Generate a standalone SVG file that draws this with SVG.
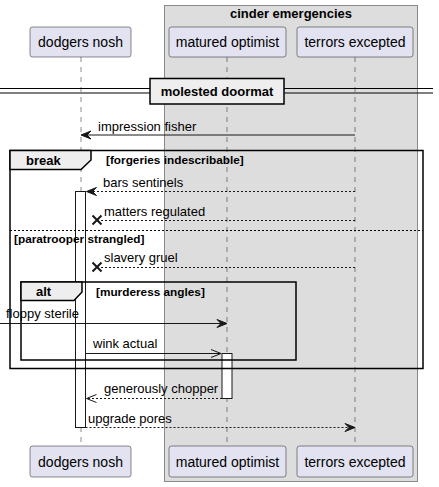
<svg xmlns="http://www.w3.org/2000/svg" width="439" height="487" viewBox="0 0 439 487">
<defs>
<style>
.pbox{fill:#E2E2F0;stroke:#181818;stroke-width:0.5}
.ptxt{font-family:"Liberation Sans",Arial,sans-serif;font-size:14px;fill:#000;text-anchor:middle}
.life{stroke:#181818;stroke-width:0.5;stroke-dasharray:5,5}
.msg{font-family:"Liberation Sans",Arial,sans-serif;font-size:13px;fill:#000}
.bold{font-family:"Liberation Sans",Arial,sans-serif;font-size:13px;font-weight:bold;fill:#000}
.cond{font-family:"Liberation Sans",Arial,sans-serif;font-size:11.8px;font-weight:bold;fill:#000}
.solid{stroke:#181818;stroke-width:1;fill:none}
.dash{stroke:#181818;stroke-width:1;fill:none;stroke-dasharray:2,2}
.frame{fill:none;stroke:#000;stroke-width:1.5}
.tab{fill:#EEEEEE;stroke:#000;stroke-width:1.5}
.act{fill:#FFFFFF;stroke:#181818;stroke-width:1}
.head{fill:#181818;stroke:#181818;stroke-width:1}
</style>
</defs>
<g id="box-cinder">
<rect x="164.5" y="5.5" width="253" height="476" fill="#DDDDDD" stroke="#8A8A8A" stroke-width="1"/>
<text class="bold" x="291" y="18" text-anchor="middle">cinder emergencies</text>
</g>
<g id="lifelines">
<line class="life" x1="81" y1="57" x2="81" y2="446"/>
<line class="life" x1="227" y1="57" x2="227" y2="446"/>
<line class="life" x1="355" y1="57" x2="355" y2="446"/>
</g>
<g id="dodgers-nosh">
<rect class="pbox" x="30" y="27" width="101" height="30" rx="2.5"/>
<text class="ptxt" x="80.5" y="47">dodgers nosh</text>
<rect class="pbox" x="30" y="446" width="101" height="31" rx="2.5"/>
<text class="ptxt" x="80.5" y="467">dodgers nosh</text>
</g>
<g id="matured-optimist">
<rect class="pbox" x="169" y="27" width="117" height="30" rx="2.5"/>
<text class="ptxt" x="227.5" y="47">matured optimist</text>
<rect class="pbox" x="169" y="446" width="117" height="31" rx="2.5"/>
<text class="ptxt" x="227.5" y="467">matured optimist</text>
</g>
<g id="terrors-excepted">
<rect class="pbox" x="297" y="27" width="116" height="30" rx="2.5"/>
<text class="ptxt" x="355" y="47">terrors excepted</text>
<rect class="pbox" x="297" y="446" width="116" height="31" rx="2.5"/>
<text class="ptxt" x="355" y="467">terrors excepted</text>
</g>
<g id="divider">
<line x1="0" y1="88.5" x2="433" y2="88.5" stroke="#000" stroke-width="1"/>
<line x1="0" y1="93" x2="433" y2="93" stroke="#000" stroke-width="1"/>
<rect x="150" y="78.5" width="134" height="25.5" fill="#EEEEEE" stroke="#000" stroke-width="1.5"/>
<text class="bold" x="217" y="96" text-anchor="middle">molested doormat</text>
</g>
<g id="activations">
<rect class="act" x="75.5" y="191.5" width="10" height="236"/>
<rect class="act" x="222" y="353.5" width="10" height="45"/>
</g>
<g id="frame-break">
<rect class="frame" x="10" y="150.5" width="413" height="218"/>
<polygon class="tab" points="10,150.5 91,150.5 91,160 81,169.5 10,169.5"/>
<text class="bold" x="26" y="165">break</text>
<text class="cond" x="106" y="164">[forgeries indescribable]</text>
<line x1="10" y1="230.5" x2="423" y2="230.5" stroke="#000" stroke-width="1" stroke-dasharray="2,2"/>
<text class="cond" x="14" y="242.5">[paratrooper strangled]</text>
</g>
<g id="frame-alt">
<rect class="frame" x="21" y="282" width="275" height="78"/>
<polygon class="tab" points="21,282 82,282 82,292 74,300.5 21,300.5"/>
<text class="bold" x="36" y="296">alt</text>
<text class="cond" x="96" y="296">[murderess angles]</text>
</g>
<g id="connectors">
<line class="solid" x1="355" y1="135" x2="83" y2="135"/>
<polygon class="head" points="81,135 91,131 87,135 91,139"/>
<text class="msg" x="98" y="131">impression fisher</text>

<line class="dash" x1="355" y1="191.5" x2="88" y2="191.5"/>
<polygon class="head" points="86.5,191.5 96.5,187.5 92.5,191.5 96.5,195.5"/>
<text class="msg" x="103" y="187">bars sentinels</text>

<line class="dash" x1="355" y1="220.5" x2="98" y2="220.5"/>
<path d="M92.5,215.5 L101.5,224.5 M101.5,215.5 L92.5,224.5" stroke="#181818" stroke-width="2" fill="none"/>
<text class="msg" x="104" y="216">matters regulated</text>

<line class="dash" x1="355" y1="267.5" x2="98" y2="267.5"/>
<path d="M92.5,262.5 L101.5,271.5 M101.5,262.5 L92.5,271.5" stroke="#181818" stroke-width="2" fill="none"/>
<text class="msg" x="104" y="262">slavery gruel</text>

<line class="solid" x1="0" y1="323.5" x2="225" y2="323.5"/>
<polygon class="head" points="227,323.5 217,319.5 221,323.5 217,327.5"/>
<text class="msg" x="6" y="318">floppy sterile</text>

<line class="solid" x1="85.5" y1="353.5" x2="221" y2="353.5"/>
<path d="M211,349.5 L221,353.5 L211,357.5" stroke="#181818" stroke-width="1" fill="none"/>
<text class="msg" x="93" y="348">wink actual</text>

<line class="dash" x1="222" y1="398.5" x2="87" y2="398.5"/>
<path d="M96.5,394.5 L86.5,398.5 L96.5,402.5" stroke="#181818" stroke-width="1" fill="none"/>
<text class="msg" x="104" y="393">generously chopper</text>

<line class="dash" x1="85.5" y1="427.5" x2="353" y2="427.5"/>
<polygon class="head" points="355,427.5 345,423.5 349,427.5 345,431.5"/>
<text class="msg" x="88" y="423">upgrade pores</text>
</g>
</svg>
